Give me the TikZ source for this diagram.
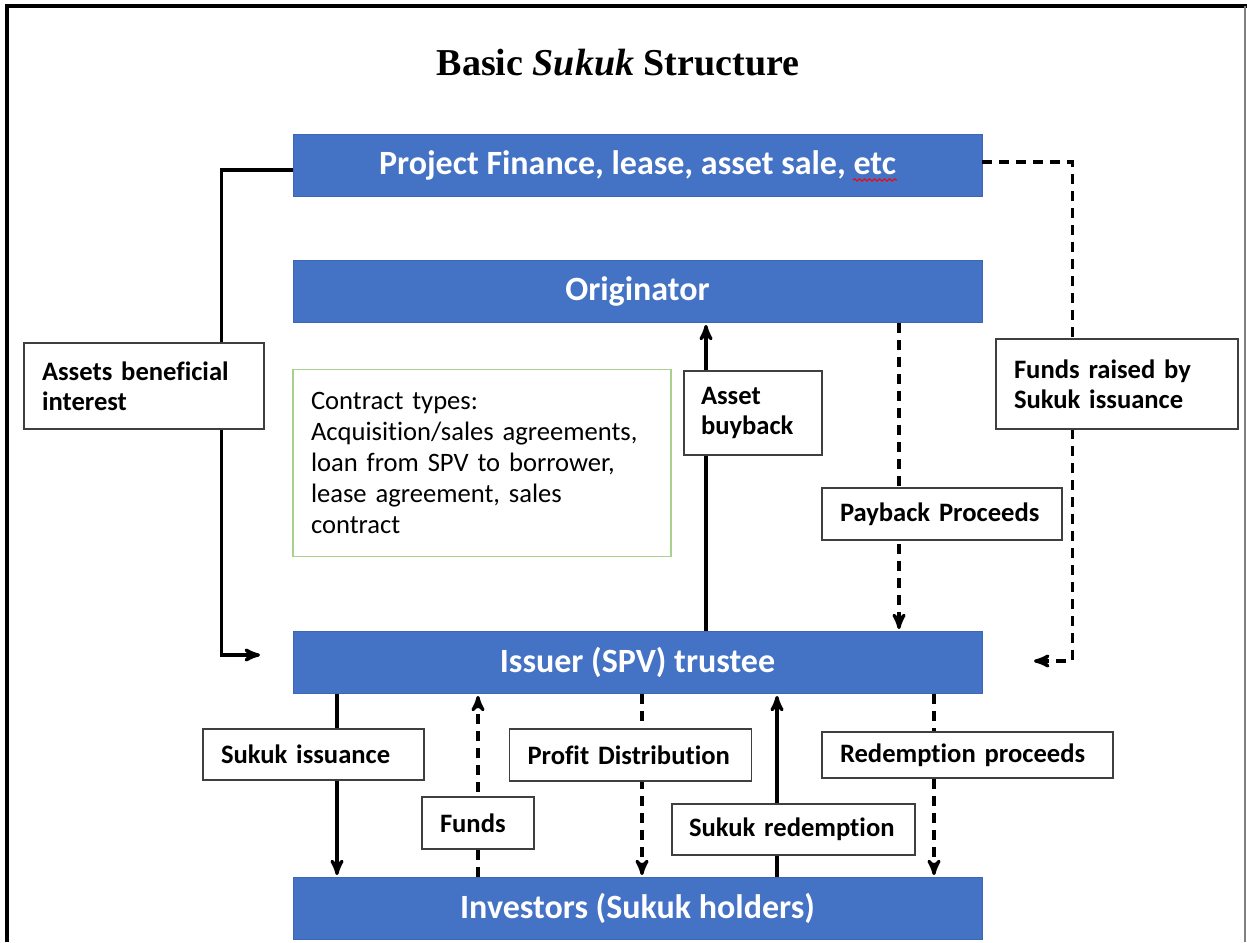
\documentclass[tikz,border=0pt]{standalone}
\usepackage{fontspec}
\setmainfont{Liberation Serif}
\newfontfamily\carlito[Ligatures=NoCommon]{Carlito}
\usepackage{tikz}
\usetikzlibrary{arrows,decorations.pathmorphing}
\definecolor{boxblue}{HTML}{4472C4}
\definecolor{edgeblue}{HTML}{3C67B6}
\definecolor{tagline}{HTML}{3F3F3F}
\definecolor{softgreen}{HTML}{A9D18E}
\hyphenpenalty=10000
\exhyphenpenalty=10000

\begin{document}
\begin{tikzpicture}[x=0.5pt,y=-0.5pt,>=stealth',
  party/.style={rectangle,fill=boxblue,draw=edgeblue,minimum width=344.5pt,minimum height=31pt,text=white,font=\carlito\bfseries\fontsize{17}{20}\selectfont},
  tag/.style={rectangle,draw=tagline,fill=white,line width=0.9pt,align=left,inner xsep=9pt,inner ysep=0pt,font=\carlito\bfseries\fontsize{13.3}{15}\selectfont},
  flow/.style={->,line width=1.6pt,shorten >=1pt},
  dflow/.style={flow,dash pattern=on 5pt off 3.5pt}]

  \useasboundingbox (0,0) rectangle (1247,942);
  % frame
  \draw[line width=1.6pt] (7,942) -- (7,6) -- (1247,6);
  \draw[gray,line width=0.6pt] (1245,6) -- (1245,942);

  \node (title) at (618,63) {\bfseries\fontsize{19}{22}\selectfont Basic \textit{Sukuk} Structure};

  % parties
  \node[party] (PF) at (637.5,165) {Project Finance, lease, asset sale, etc};
  \node[party] (OR) at (637.5,291.5) {Originator};
  \node[party] (IS) at (637.5,662.5) {Issuer (SPV) trustee};
  \node[party] (IN) at (637.5,908.5) {Investors (Sukuk holders)};
  \draw[red,line width=0.5pt,decorate,decoration={snake,amplitude=0.6pt,segment length=2.5pt}] (853,180) -- (897,180);

  % flows
  \coordinate (inL) at (262,655);
  \coordinate (inR) at (1032,661);
  \draw[flow] ([yshift=-2.5pt]PF.west) -- ++(-71,0) |- (inL);
  \draw[dflow] ([yshift=1.5pt]PF.east) -- ++(90,0) |- (inR);
  \draw[flow] (IS.north -| 706,0) -- (OR.south -| 706,0);
  \draw[dflow] (OR.south -| 899,0) -- (IS.north -| 899,0);
  \draw[flow] (IS.south -| 337,0) -- (IN.north -| 337,0);
  \draw[dflow] (IN.north -| 478,0) -- (IS.south -| 478,0);
  \draw[dflow] (IS.south -| 642,0) -- (IN.north -| 642,0);
  \draw[flow] (IN.north -| 777,0) -- (IS.south -| 777,0);
  \draw[dflow] (IS.south -| 934,0) -- (IN.north -| 934,0);

  % labels
  \node[tag,minimum width=120pt,minimum height=43pt,text width=102pt] (ABI) at (144,386) {Assets beneficial\\interest};
  \node[tag,draw=softgreen,font=\carlito\fontsize{13.3}{15.5}\selectfont,minimum width=189pt,minimum height=93.5pt,text width=171pt] (CT) at (482,463) {Contract types:\\Acquisition/sales agreements,\\loan from SPV to borrower,\\lease agreement, sales\\contract};
  \node[tag,inner xsep=8.5pt,minimum width=69pt,minimum height=42pt,text width=52pt] (AB) at (753,413) {Asset\\buyback};
  \node[tag,minimum width=121pt,minimum height=45pt,text width=103pt] (FR) at (1117,384) {Funds raised by\\Sukuk issuance};
  \node[tag,minimum width=120pt,minimum height=26pt,text width=102pt] (PP) at (942,514) {Payback Proceeds};
  \node[tag,minimum width=110.5pt,minimum height=25.5pt,text width=92.5pt] (SI) at (313.5,754.5) {Sukuk issuance};
  \node[tag,minimum width=56pt,minimum height=26pt,text width=38pt] (FU) at (478,823) {Funds};
  \node[tag,minimum width=121pt,minimum height=26pt,text width=103pt] (PD) at (630.5,755) {Profit Distribution};
  \node[tag,inner xsep=8.5pt,minimum width=121.5pt,minimum height=25.5pt,text width=104.5pt] (SR) at (793.5,829.5) {Sukuk redemption};
  \node[tag,minimum width=145.5pt,minimum height=23pt,text width=127.5pt] (RP) at (967.5,755) {Redemption proceeds};
\end{tikzpicture}
\end{document}
